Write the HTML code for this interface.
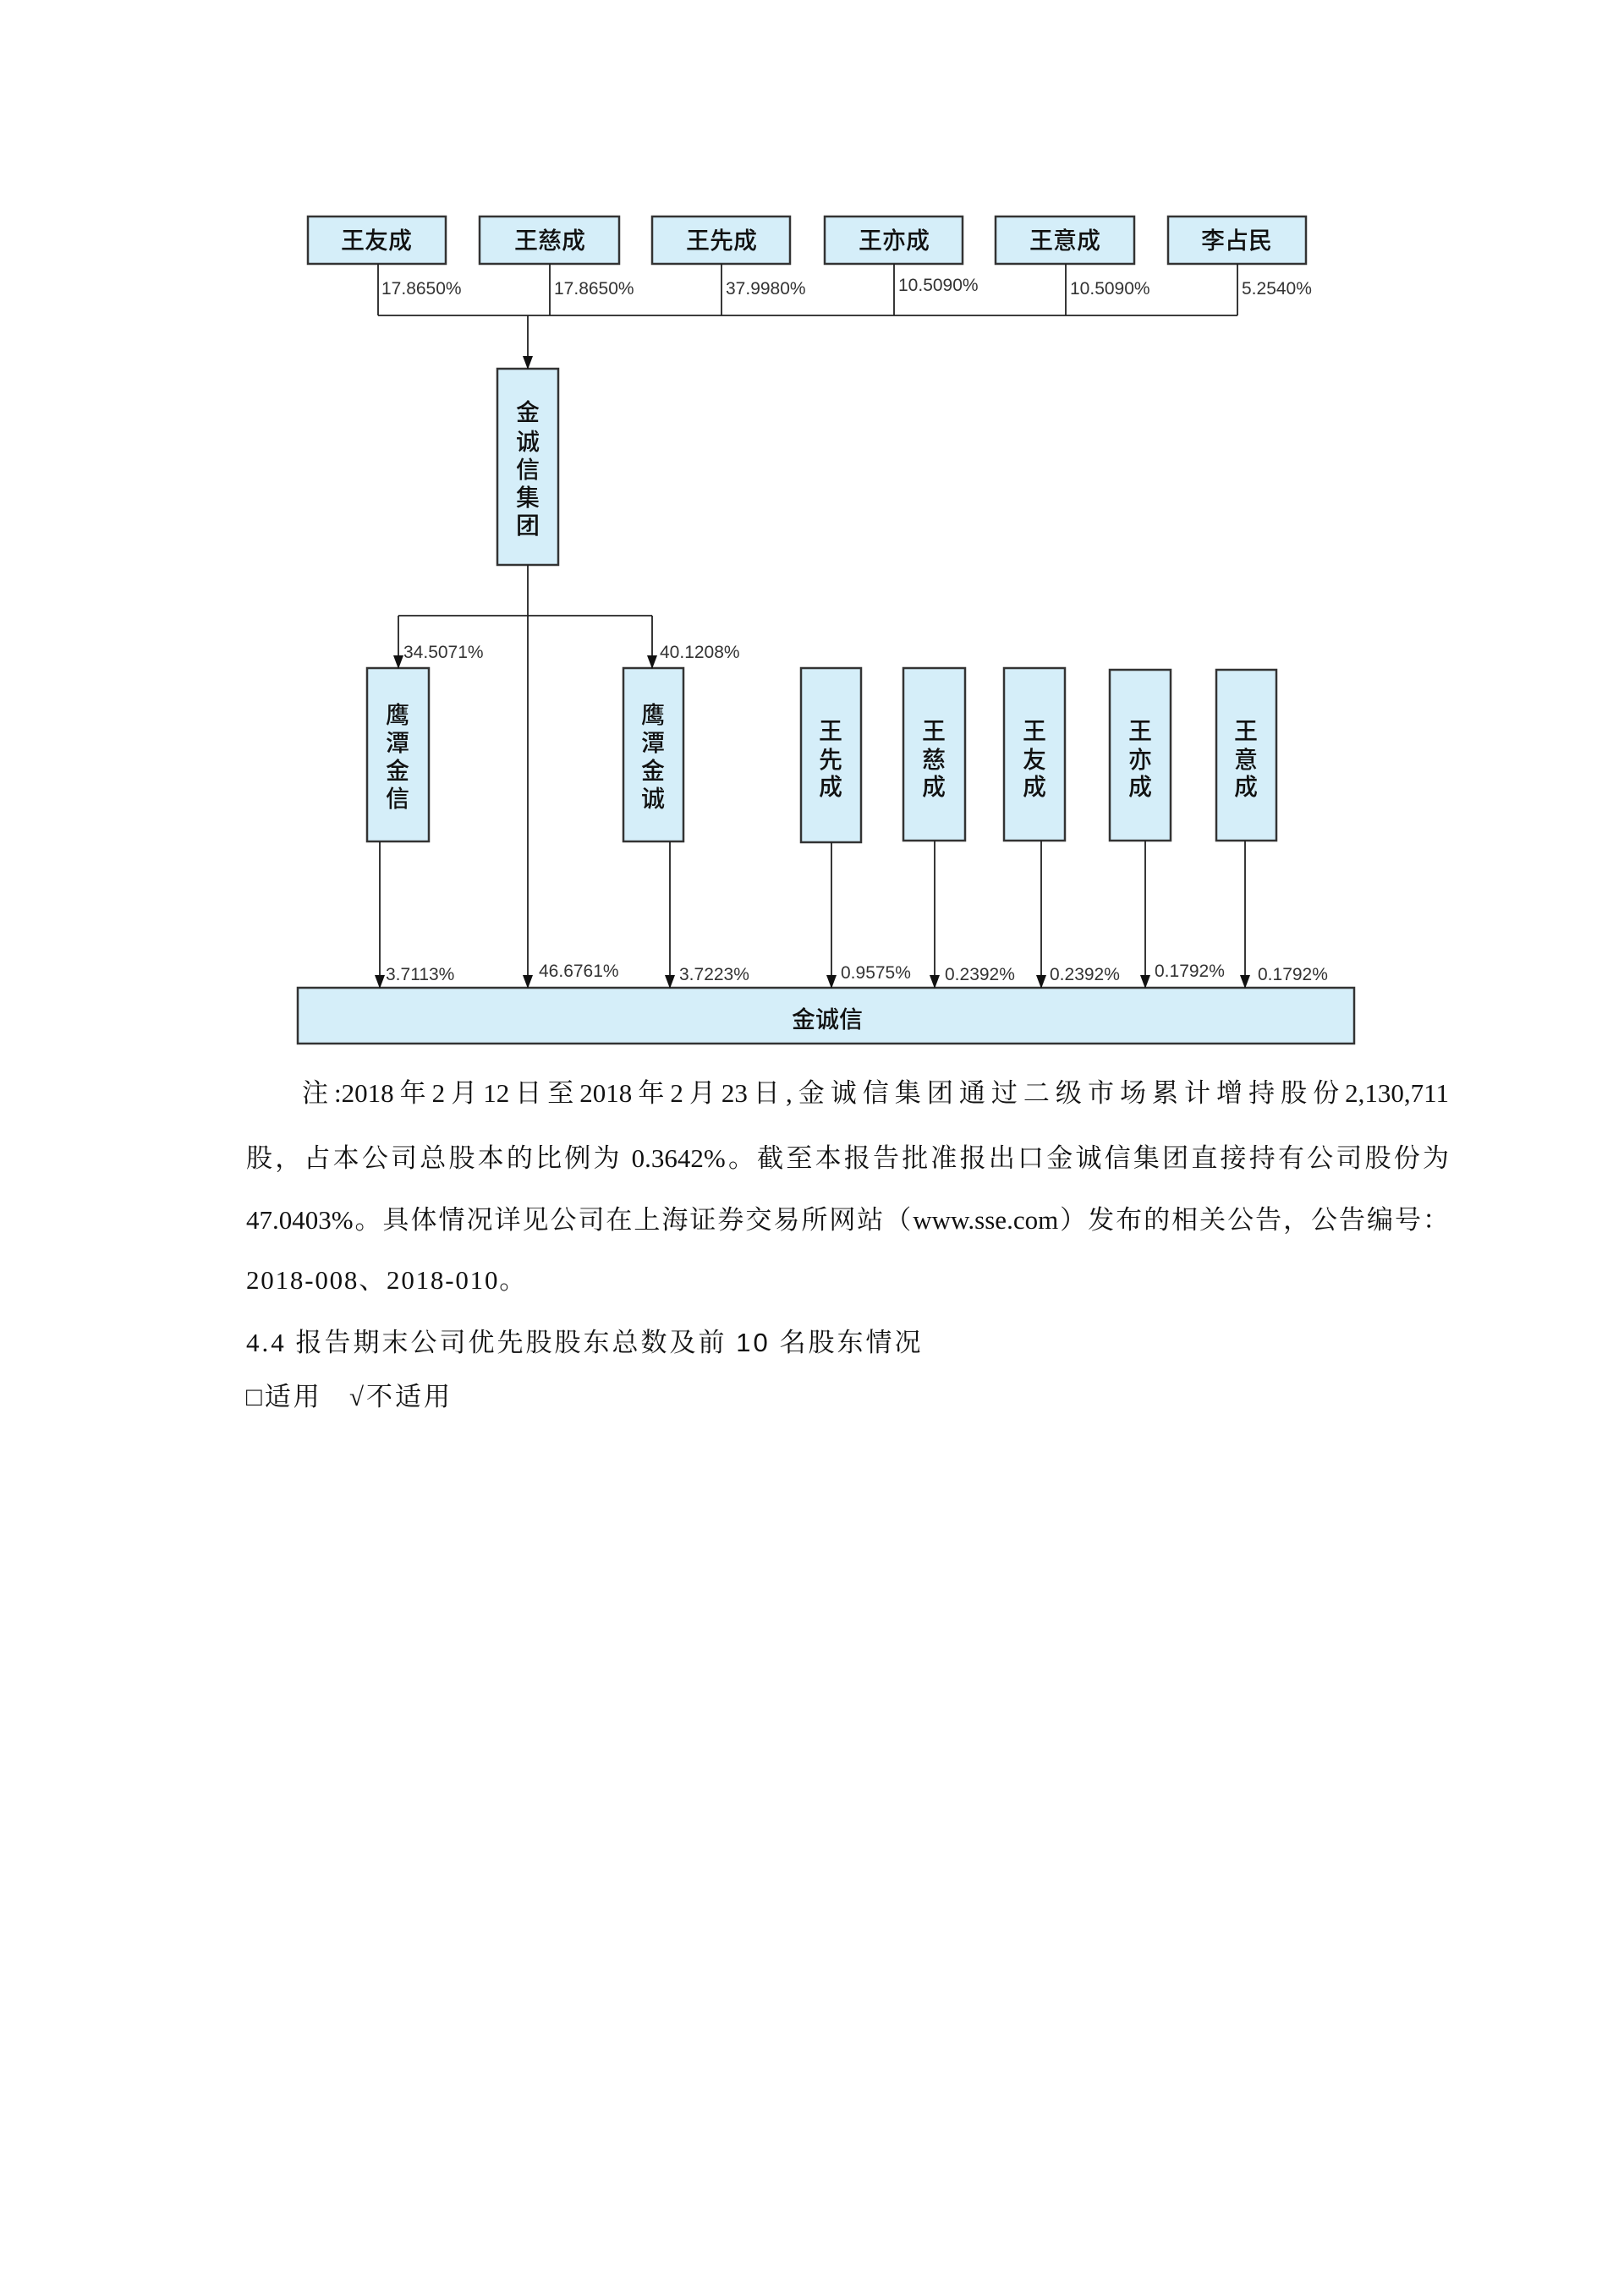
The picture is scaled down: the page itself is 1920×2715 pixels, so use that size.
<!DOCTYPE html>
<html><head><meta charset="utf-8"><style>
html,body{margin:0;padding:0;background:#fff;}
body{width:1920px;height:2715px;position:relative;overflow:hidden;}
.t{position:absolute;font-family:"Liberation Serif","Noto Serif CJK SC",serif;font-size:31px;color:#111;white-space:nowrap;line-height:40px;}
.j{text-align:justify;text-align-last:justify;white-space:normal;text-justify:inter-character;}
</style></head><body>
<svg width="1920" height="1260" style="position:absolute;left:0;top:0" xmlns="http://www.w3.org/2000/svg">
<defs><marker id="a" markerWidth="12" markerHeight="16" refX="6" refY="15" orient="0" markerUnits="userSpaceOnUse"><path d="M0,0 L12,0 L6,16 Z" fill="#111"/></marker></defs>
<g fill="#d5eef9" stroke="#333" stroke-width="2.5">
<rect x="364" y="256" width="163" height="56"/>
<rect x="567" y="256" width="165" height="56"/>
<rect x="771" y="256" width="163" height="56"/>
<rect x="975" y="256" width="163" height="56"/>
<rect x="1177" y="256" width="164" height="56"/>
<rect x="1381" y="256" width="163" height="56"/>
<rect x="588" y="436" width="72" height="232"/>
<rect x="434" y="790" width="73" height="205"/>
<rect x="737" y="790" width="71" height="205"/>
<rect x="947" y="790" width="71" height="206"/>
<rect x="1068" y="790" width="73" height="204"/>
<rect x="1187" y="790" width="72" height="204"/>
<rect x="1312" y="792" width="72" height="202"/>
<rect x="1438" y="792" width="71" height="202"/>
<rect x="352" y="1168" width="1249" height="66"/>
</g>
<g stroke="#222" stroke-width="1.8" fill="none">
<path d="M447,312V373M650,312V373M853,312V373M1057,312V373M1260,312V373M1463,312V373M447,373H1463"/>
<path d="M624,373V436" marker-end="url(#a)"/>
<path d="M624,668V1168" marker-end="url(#a)"/>
<path d="M471,728H771"/>
<path d="M471,728V790" marker-end="url(#a)"/>
<path d="M771,728V790" marker-end="url(#a)"/>
<path d="M449,995V1168" marker-end="url(#a)"/>
<path d="M792,995V1168" marker-end="url(#a)"/>
<path d="M983,996V1168" marker-end="url(#a)"/>
<path d="M1105,994V1168" marker-end="url(#a)"/>
<path d="M1231,994V1168" marker-end="url(#a)"/>
<path d="M1354,994V1168" marker-end="url(#a)"/>
<path d="M1472,994V1168" marker-end="url(#a)"/>
</g>
<g font-family="Liberation Sans,Noto Sans CJK SC,sans-serif" font-size="28" fill="#111" text-anchor="middle" font-weight="500">
<text x="445" y="294">王友成</text><text x="650" y="294">王慈成</text><text x="853" y="294">王先成</text>
<text x="1057" y="294">王亦成</text><text x="1259" y="294">王意成</text><text x="1462" y="294">李占民</text>
<text x="624" y="497">金</text><text x="624" y="532">诚</text><text x="624" y="565">信</text><text x="624" y="598">集</text><text x="624" y="631">团</text>
<text x="470" y="855">鹰</text><text x="470" y="888">潭</text><text x="470" y="921">金</text><text x="470" y="954">信</text>
<text x="772" y="855">鹰</text><text x="772" y="888">潭</text><text x="772" y="921">金</text><text x="772" y="954">诚</text>
<g><text x="982" y="874">王</text><text x="982" y="908">先</text><text x="982" y="940">成</text>
<text x="1104" y="874">王</text><text x="1104" y="908">慈</text><text x="1104" y="940">成</text>
<text x="1223" y="874">王</text><text x="1223" y="908">友</text><text x="1223" y="940">成</text>
<text x="1348" y="874">王</text><text x="1348" y="908">亦</text><text x="1348" y="940">成</text>
<text x="1473" y="874">王</text><text x="1473" y="908">意</text><text x="1473" y="940">成</text></g>
<text x="978" y="1215">金诚信</text>
</g>
<g font-family="Liberation Sans,sans-serif" font-size="21" fill="#333">
<text x="451" y="348">17.8650%</text><text x="655" y="348">17.8650%</text><text x="858" y="348">37.9980%</text>
<text x="1062" y="344">10.5090%</text><text x="1265" y="348">10.5090%</text><text x="1468" y="348">5.2540%</text>
<text x="477" y="778">34.5071%</text><text x="780" y="778">40.1208%</text>
<text x="456" y="1159">3.7113%</text><text x="637" y="1155">46.6761%</text><text x="803" y="1159">3.7223%</text>
<text x="994" y="1157">0.9575%</text><text x="1117" y="1159">0.2392%</text><text x="1241" y="1159">0.2392%</text>
<text x="1365" y="1155">0.1792%</text><text x="1487" y="1159">0.1792%</text>
</g>
</svg>
<div class="t j" style="left:357px;top:1273px;width:1356px;">注:2018年2月12日至2018年2月23日,金诚信集团通过二级市场累计增持股份2,130,711</div>
<div class="t j" style="left:291px;top:1350px;width:1422px;">股，占本公司总股本的比例为 0.3642%。截至本报告批准报出口金诚信集团直接持有公司股份为</div>
<div class="t j" style="left:291px;top:1423px;width:1422px;">47.0403%。具体情况详见公司在上海证券交易所网站（www.sse.com）发布的相关公告，公告编号：</div>
<div class="t" style="left:291px;top:1494px;letter-spacing:1.8px;">2018-008、2018-010。</div>
<div class="t" style="left:291px;top:1568px;letter-spacing:3px;">4.4 报告期末公司优先股股东总数及前 <span style="font-family:'Liberation Sans',sans-serif">10</span> 名股东情况</div>
<div class="t" style="left:291px;top:1632px;letter-spacing:3px;">□适用&nbsp;&nbsp;&nbsp;√不适用</div>
</body></html>
